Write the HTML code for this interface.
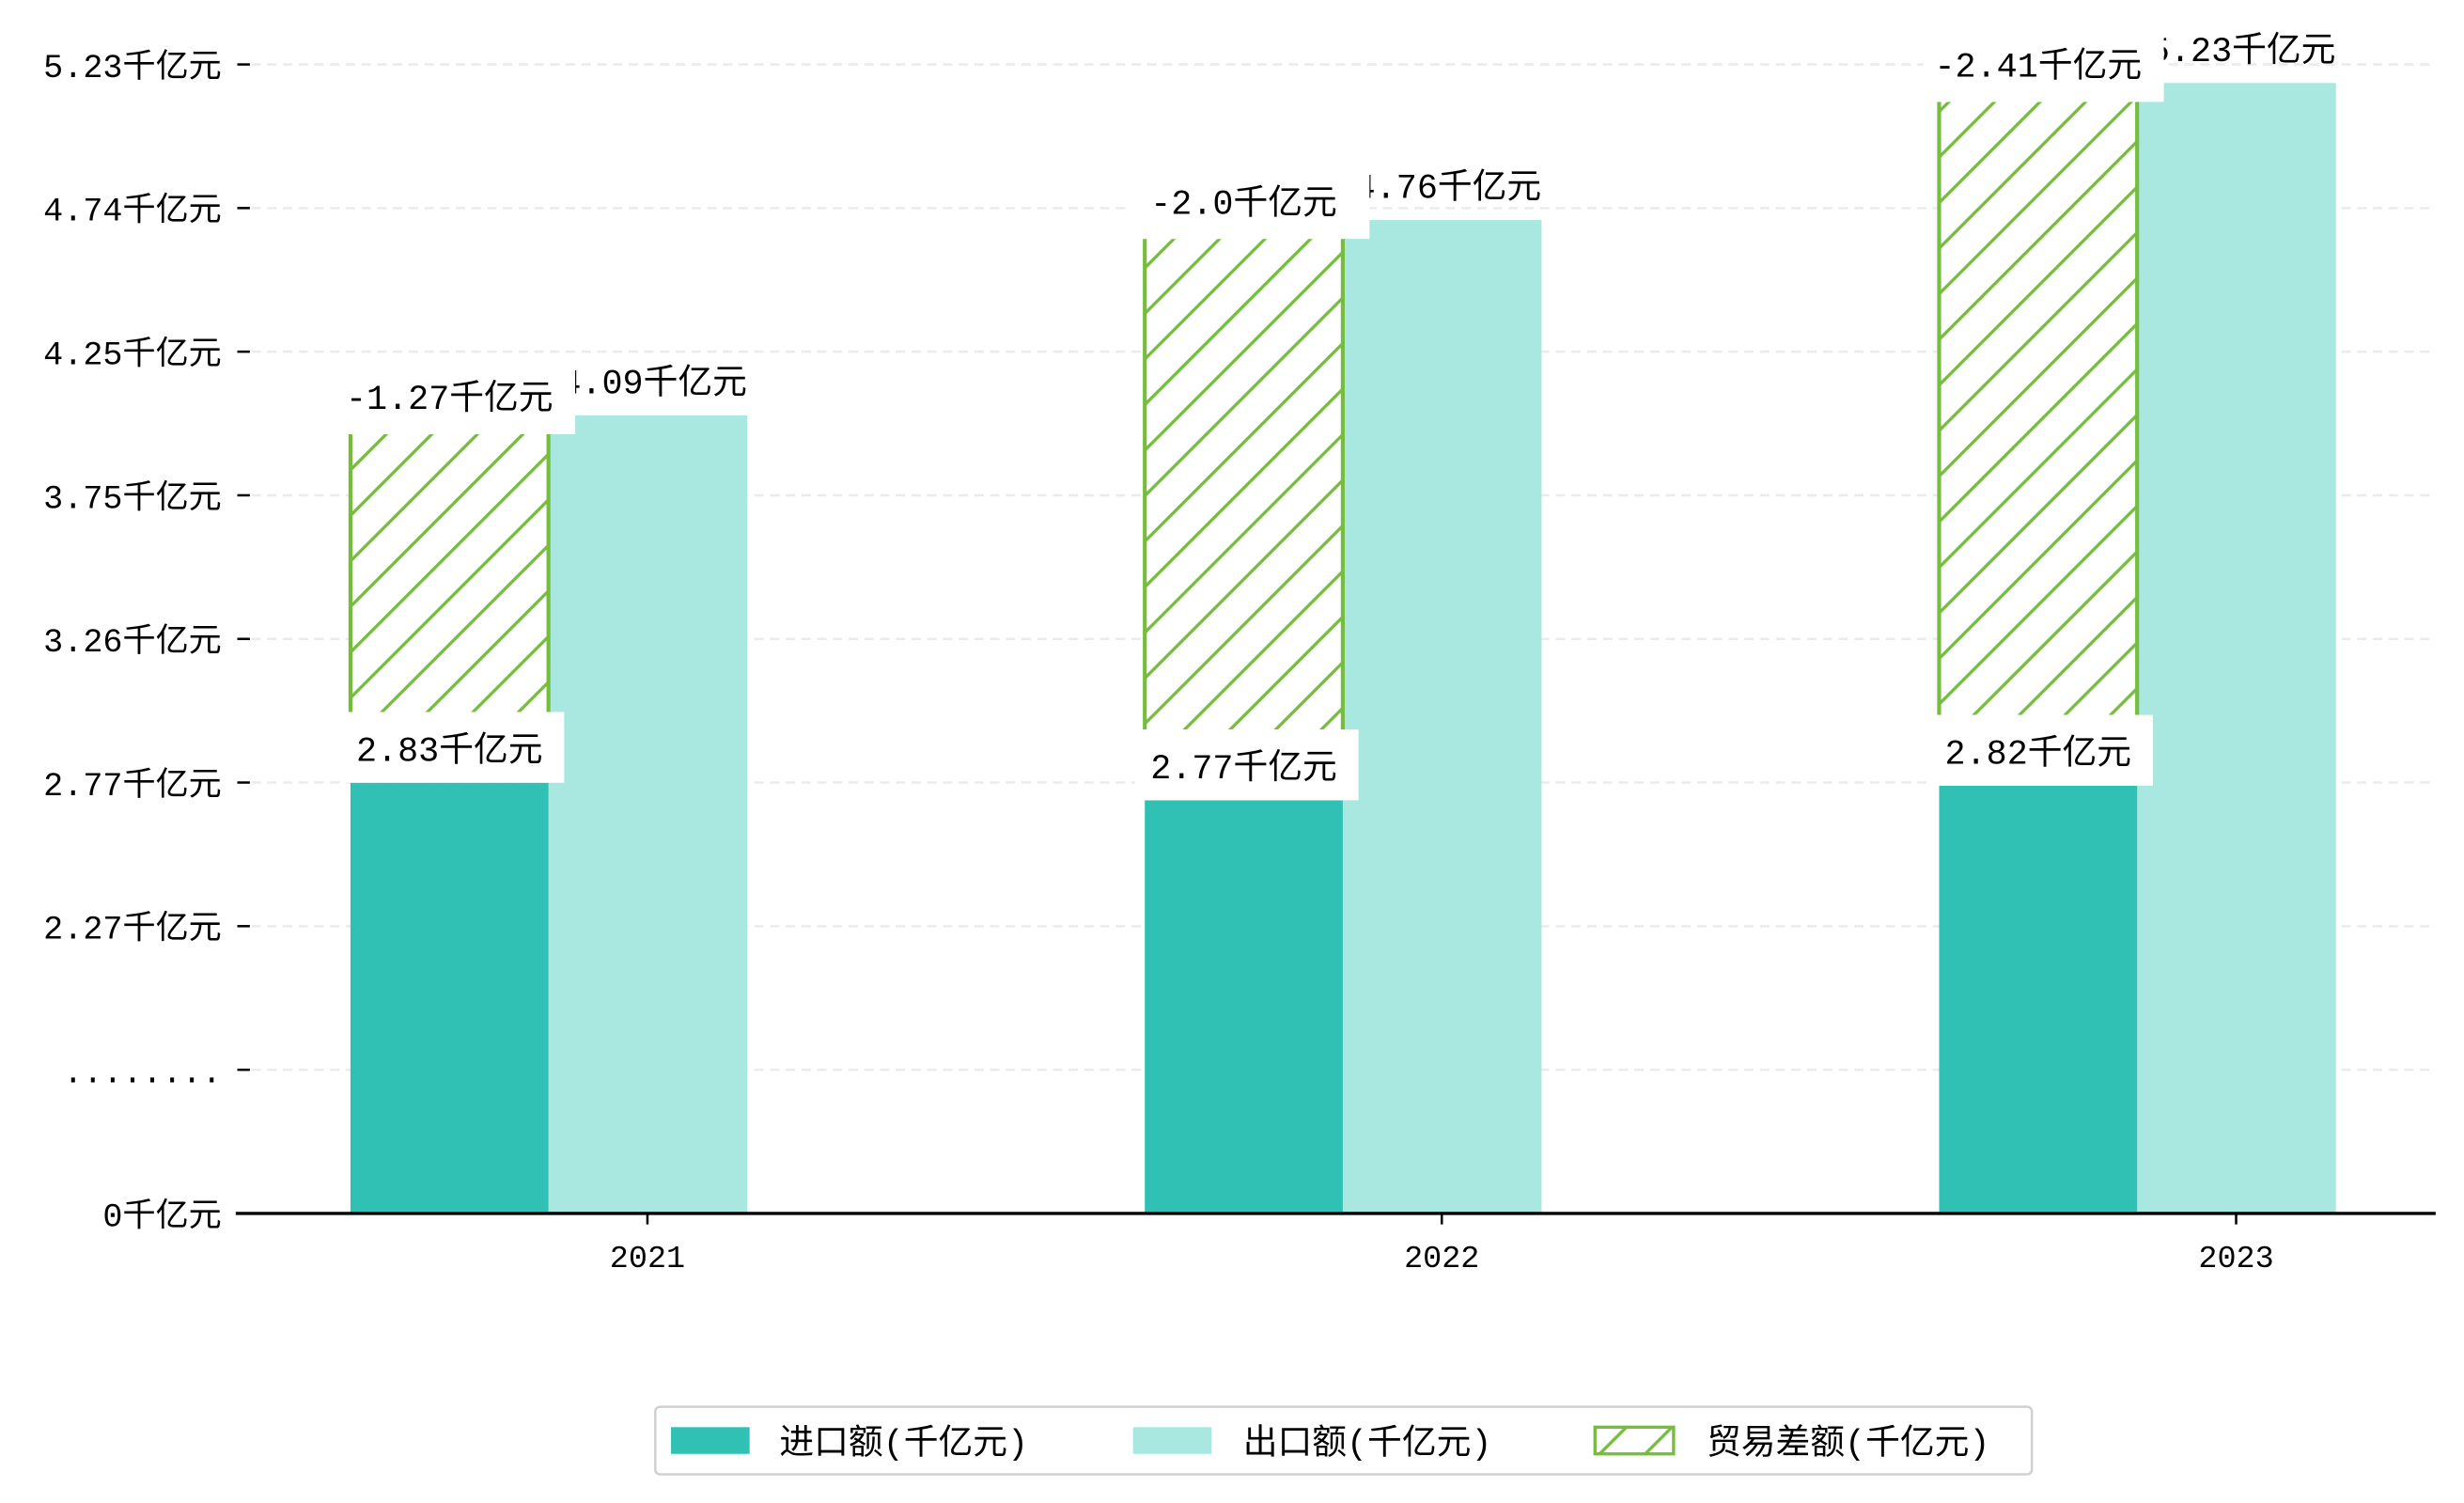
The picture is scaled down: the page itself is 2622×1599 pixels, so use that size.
<!DOCTYPE html>
<html><head><meta charset="utf-8">
<style>
html,body{margin:0;padding:0;background:#fff;}
svg{display:block;font-family:"Liberation Mono","Noto Sans CJK SC",monospace;}
</style></head>
<body>
<svg id="chart" width="2622" height="1599" viewBox="0 0 1568 956.25" xmlns="http://www.w3.org/2000/svg">
<defs>
<pattern id="hatch" patternUnits="userSpaceOnUse" width="29" height="29">
<rect width="29" height="29" fill="#fff"/>
<path d="M-2,31 L31,-2 M-16,16 L16,-16 M13,45 L45,13" stroke="#76bd3f" stroke-width="2"/>
</pattern>
</defs>
<g id="grid"></g>
<g id="bars"></g>
<g id="axes"></g>
<g id="labels"></g>
<g>
<rect x="417" y="895" width="876" height="43" rx="3" fill="#fff" stroke="#d0d0d0" stroke-width="1.5"/>
<rect x="427" y="908" width="50" height="17" fill="#30c0b4"/>
<text x="496" y="925" font-size="22">进口额(千亿元)</text>
<rect x="721" y="908" width="50" height="17" fill="#a9e8e1"/>
<text x="791" y="925" font-size="22">出口额(千亿元)</text>
<rect x="1015" y="908" width="50" height="17" fill="url(#hatch)" stroke="#76bd3f" stroke-width="2"/>
<text x="1086" y="925" font-size="22">贸易差额(千亿元)</text>
</g>
</svg>
<script>
const years = ["2021","2022","2023"];
const importVals = [2.83, 2.77, 2.82];
const exportVals = [4.09, 4.76, 5.23];
const balanceVals = [-1.27, -2.0, -2.41];
const tickLabels = ["5.23千亿元","4.74千亿元","4.25千亿元","3.75千亿元","3.26千亿元","2.77千亿元","2.27千亿元","........","0千亿元"];

const NS="http://www.w3.org/2000/svg";
const base=772, top0=41, tickStep=(base-top0)/(tickLabels.length-1);
function yv(v){ return Math.min(base, 498-(v-2.83)*185.5); }
function xc(i){ return 412+i*505.5; }
const bw=126.5;
function mk(tag,attrs,parent,txt){const e=document.createElementNS(NS,tag);for(const k in attrs)e.setAttribute(k,attrs[k]);if(txt!==undefined)e.textContent=txt;parent.appendChild(e);return e;}
const grid=document.getElementById('grid'),bars=document.getElementById('bars'),axes=document.getElementById('axes'),labels=document.getElementById('labels');

tickLabels.forEach((t,i)=>{
  const y=top0+i*tickStep;
  if(i<tickLabels.length-1){
    const g=mk('line',{x1:160,x2:1550,y1:y,y2:y,stroke:'#ebebeb','stroke-width':1.5,'stroke-dasharray':'6,4'},grid);
    
    
  }
  const tk=mk('line',{x1:151,x2:159,y1:y,y2:y,stroke:'#000','stroke-width':1.5},axes);
  
  
  const lb=mk('text',{x:141,y:y+8,'font-size':21,'text-anchor':'end'},axes,t);
  
  
});
const ax=mk('line',{x1:150,x2:1550,y1:base,y2:base,stroke:'#000','stroke-width':2},axes);



years.forEach((yr,i)=>{
  const c=xc(i);
  const yi=yv(importVals[i]), ye=yv(exportVals[i]);
  const hTop=ye+12, hBot=yi-45;
  const b1=mk('rect',{x:c-189,y:yi,width:bw,height:base-yi,fill:'#30c0b4'},bars);
  
  
  const b2=mk('rect',{x:c-63,y:ye,width:bw,height:base-ye,fill:'#a9e8e1'},bars);
  
  
  const b3=mk('rect',{x:c-189,y:hTop,width:bw,height:hBot-hTop,fill:'url(#hatch)'},bars);
  
  
  mk('line',{x1:c-189,x2:c-189,y1:hTop,y2:hBot,stroke:'#76bd3f','stroke-width':2.5},bars);
  mk('line',{x1:c-63,x2:c-63,y1:hTop,y2:hBot,stroke:'#76bd3f','stroke-width':2.5},bars);
  const tk=mk('line',{x1:c,x2:c,y1:base,y2:base+7,stroke:'#000','stroke-width':1.5},axes);
  
  
  const xl=mk('text',{x:c,y:base+34,'font-size':20,'text-anchor':'middle'},axes,yr);
  
  
  // export label (centered on group, partly covered by balance label box)
  const el=mk('text',{x:c+4,y:ye-14,'font-size':22,'text-anchor':'middle'},labels,exportVals[i]+'千亿元');
  
  
  // import label
  mk('rect',{x:c-195,y:yi-45,width:142,height:45,fill:'#fff'},labels);
  const il=mk('text',{x:c-126,y:yi-14,'font-size':22,'text-anchor':'middle'},labels,importVals[i].toFixed(2)+'千亿元');
  
  
  // balance label
  mk('rect',{x:c-199,y:hTop-47,width:153,height:47,fill:'#fff'},labels);
  const bl=mk('text',{x:c-126,y:hTop-16,'font-size':22,'text-anchor':'middle'},labels,String(balanceVals[i]===-2?'-2.0':balanceVals[i])+'千亿元');
  
  
});
</script>
</body></html>
